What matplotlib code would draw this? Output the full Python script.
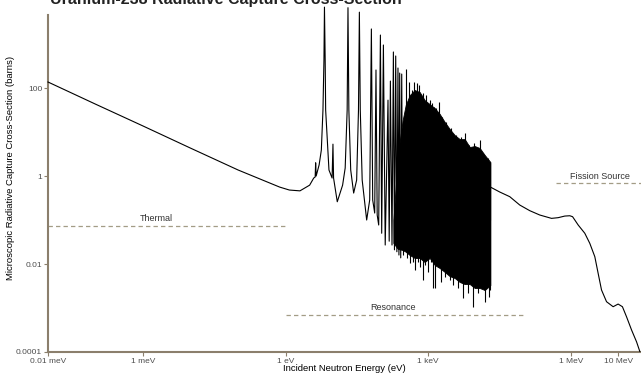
import matplotlib.pyplot as plt
from matplotlib.ticker import NullLocator

plt.rcParams['font.family'] = ['Liberation Sans', 'DejaVu Sans']

# 1/v thermal part (eV, barns)
thermal_E = [1e-5, 1e-4, 1e-3, 1e-2, 0.1, 0.75, 1.2, 2.0, 3.2, 3.9]
thermal_sigma = [137, 43, 13.7, 4.3, 1.37, 0.56, 0.48, 0.46, 0.62, 0.9]

# resolved resonances, peaks and valleys
res_E = [4.18, 4.28, 4.39,
         5.07, 5.64, 6.10, 6.40, 6.56, 6.79, 6.95, 8.16, 9.5, 9.9, 10.2, 12.2,
         15.8, 17.9, 19.7, 20.5, 21.4, 23.4, 27,
         31.2, 34.1, 35.6, 37.2, 40.8, 50.7,
         58.7, 63.7, 67.9, 74.8, 79.6, 84.4, 90.8, 98.6, 105, 114, 124.5,
         142.5, 151, 160, 173, 185, 195, 207, 219, 231, 242, 251, 264, 277, 290]
res_sigma = [0.95, 2.0, 1.0,
             1.8, 3.9, 31.6, 435, 6900, 435, 31.6, 1.37, 0.9, 5.3, 0.9, 0.26,
             0.62, 1.52, 31.6, 6700, 31.6, 1.37, 0.41,
             0.81, 31.6, 5300, 31.6, 0.81, 0.1,
             0.285, 2200, 0.285, 0.144, 257, 0.13, 0.077, 1600, 0.05, 950, 0.027,
             53, 0.033, 144, 0.027, 660, 0.021, 535, 0.019, 285, 0.016, 219, 0.0138, 208, 0.03]

# dense resonance forest: tips of the upper and lower spikes
top_spike_E = [341, 394, 450, 512, 581, 640, 712, 793, 886, 1076, 1210, 1306,
               1489, 1688, 1990, 2417, 3080, 3925, 5000, 6070, 7230, 9210,
               12140, 14250, 18150, 20000, 20300]
top_spike_sigma = [270, 137, 90, 137, 130, 117, 69, 77, 69, 53, 45, 37.6,
                   35, 47, 22.3, 17.1, 12.1, 8.5, 7.8, 9.5, 5.07, 5.6,
                   6.6, 3.3, 2.56, 2.1, 2.0]
bottom_spike_E = [295, 361, 408, 472, 520, 601, 662, 778, 844, 991, 1167, 1262,
                  1370, 1585, 1834, 2225, 2836, 3330, 4240, 5400, 6890, 8770,
                  11180, 13000, 15460, 19240, 20300]
bottom_spike_sigma = [0.016, 0.0137, 0.0105, 0.0111, 0.0073, 0.0111, 0.0087,
                      0.0043, 0.0095, 0.0067, 0.0113, 0.00285, 0.00285, 0.0087,
                      0.00396, 0.0051, 0.0043, 0.00333, 0.0028, 0.00166, 0.0022,
                      0.00107, 0.0022, 0.003, 0.00139, 0.0018, 0.0025]

# solid core of the forest
band_E = [185, 230, 290, 336, 408, 520, 662, 843, 1076, 1371, 1746,
          2225, 2836, 3613, 4605, 5868, 7475, 9520, 12130, 15460, 20300]
band_top = [0.1, 3, 18.7, 41, 69, 90, 81, 53, 43, 35, 25.7,
            16.9, 11.7, 8.5, 6.9, 6.9, 4.56, 4.8, 4.33, 3.0, 2.08]
band_bottom = [0.03, 0.022, 0.0208, 0.019, 0.016, 0.0137, 0.0137,
               0.0111, 0.0137, 0.0095, 0.0081, 0.0066, 0.0053, 0.0048, 0.0039,
               0.0035, 0.0035, 0.00285, 0.00285, 0.00256, 0.0033]

# unresolved / fast part
fast_E = [20400, 32000, 52000, 84400, 1.37e5, 2.22e5, 3.93e5, 5.41e5, 7.48e5,
          9.53e5, 1.09e6, 1.43e6, 1.97e6, 2.51e6, 3.2e6, 3.76e6, 4.43e6, 5.65e6,
          7.78e6, 9.9e6, 1.22e7, 1.49e7, 1.9e7, 2.42e7, 2.84e7]
fast_sigma = [0.56, 0.433, 0.339, 0.219, 0.163, 0.130, 0.109, 0.113, 0.123,
              0.125, 0.119, 0.077, 0.050, 0.0295, 0.0147, 0.00615, 0.00257,
              0.00139, 0.00107, 0.00123, 0.00107, 0.00063, 0.000316, 0.00017, 0.000102]

# energy ranges: (label, start, end, level)
ranges = [("Thermal", 1e-5, 1.0, 0.073),
          ("Resonance", 1.0, 1e5, 7.1e-4),
          ("Fission Source", 5e5, 3e7, 0.69)]

x_ticks = [1e-5, 1e-3, 1, 1e3, 1e6, 1e7]
x_tick_labels = ["0.01 meV", "1 meV", "1 eV", "1 keV", "1 MeV", "10 MeV"]
y_ticks = [1e-4, 1e-2, 1, 100]
y_tick_labels = ["0.0001", "0.01", "1", "100"]

spine_col = '#8b7f6c'
dash_col = '#a39c86'

fig = plt.figure(figsize=(6.41, 3.74), dpi=100)
ax = fig.add_axes([48 / 641, 1 - 352 / 374, 1 - 48 / 641, (352 - 15) / 374])

# curve up to the forest, the forest itself, then the smooth fast part
ax.plot(thermal_E + res_E, thermal_sigma + res_sigma, color='black', lw=0.8,
        clip_on=False, zorder=3)
ax.fill_between(band_E, band_bottom, band_top, color='black', lw=0.6)
ax.vlines(top_spike_E, 0.1, top_spike_sigma, color='black', lw=0.8)
ax.vlines(bottom_spike_E, bottom_spike_sigma, 0.1, color='black', lw=0.8)
ax.plot(fast_E, fast_sigma, color='black', lw=0.8, zorder=3)

label_pos = {"Thermal": (1.92e-3, 0.111), "Resonance": (179, 1.05e-3),
             "Fission Source": (4.18e6, 1.0)}
for name, e0, e1, lvl in ranges:
    ax.plot([e0, e1], [lvl, lvl], color=dash_col, lw=0.9, dashes=(3.5, 2.5), clip_on=False)
    tx, ty = label_pos[name]
    ax.text(tx, ty, name, ha='center', va='center', fontsize=6.5, color='#333333')

ax.set_xscale('log')
ax.set_yscale('log')
ax.set_xlim(1e-5, 3e7)
ax.set_ylim(1e-4, 4570)
ax.set_xticks(x_ticks, x_tick_labels)
ax.set_yticks(y_ticks, y_tick_labels)
ax.xaxis.set_minor_locator(NullLocator())
ax.yaxis.set_minor_locator(NullLocator())

ax.spines['top'].set_visible(False)
ax.spines['right'].set_visible(False)
for s in ['left', 'bottom']:
    ax.spines[s].set_color(spine_col)
    ax.spines[s].set_linewidth(1.5)
ax.tick_params(axis='both', length=2.75, width=0.8, color=spine_col, pad=1.5,
               labelsize=6, labelcolor='#4d4d4d')

ax.set_xlabel("Incident Neutron Energy (eV)", fontsize=6.8, color='black')
ax.xaxis.set_label_coords(0.5, -0.036)
ax.set_ylabel("Microscopic Radiative Capture Cross-Section (barns)", fontsize=6.8, color='black')
ax.yaxis.set_label_coords(-0.055, 0.546)

fig.text(50 / 641, 1 - 4.0 / 374, "Uranium-238 Radiative Capture Cross-Section",
         fontsize=11.5, fontweight='bold', ha='left', va='baseline', color='#222222')

fig.savefig("out.png", dpi=100)
